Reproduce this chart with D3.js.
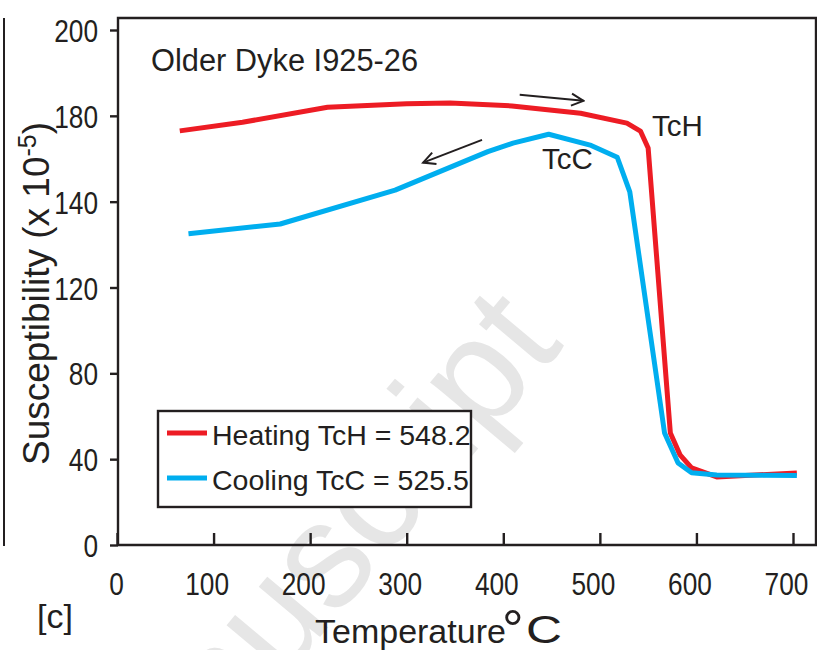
<!DOCTYPE html>
<html>
<head>
<meta charset="utf-8">
<script src="https://cdn.jsdelivr.net/npm/d3@7/dist/d3.min.js"></script>
<style>
  html, body { margin: 0; padding: 0; background: #fff; }
  svg { display: block; }
  text { fill: #231F20; }
</style>
</head>
<body>
<svg id="chart" width="817" height="650"></svg>
<script>
// ---- data ----
const heatTemp = [65, 130, 218, 300, 345, 409, 480, 528, 542, 550, 573, 583, 595, 621, 704];
const heatSusc = [173, 177, 182, 182.8, 183, 182.3, 180.6, 176.6, 172.9, 165, 52.2, 42, 35.9, 31.7, 33.6];
const coolTemp = [74, 169, 288, 384, 410, 447, 491, 518, 531, 567, 581, 595, 621, 704];
const coolSusc = [132.5, 134.8, 145.4, 163.3, 167.3, 171.4, 166.2, 160.7, 144.6, 52.2, 38.2, 33.7, 32.6, 32.4];
const xTicks = [0, 100, 200, 300, 400, 500, 600, 700];
const yTicks = [0, 40, 80, 120, 140, 180, 200];
const yTickLabels = ["0", "40", "80", "120", "140", "180", "200"];
const seriesNames = ["Heating TcH = 548.2", "Cooling TcC = 525.5"];
const seriesColors = ["#ED1C24", "#00AEEF"];
// annotation arrows in data units [t0, k0, t1, k1]
const arrowHeat = [417, 184.9, 483, 183.5];
const arrowCool = [378, 168.8, 317, 158.2];

(function () {
// ---- layout ----
const pL = 118, pR = 816, pT = 18, pB = 545;
const INK = "#231F20";
const svg = d3.select("#chart");
const sans = "'Liberation Sans', Arial, Helvetica, sans-serif";
const digitW = 14.6; // narrow digit advance at 32px

const x = d3.scaleLinear().domain([0, 700]).range([117, 793]);
const yStep = (545 - 30) / (yTicks.length - 1);
const y = d3.scaleLinear().domain(yTicks).range(yTicks.map((d, i) => 545 - i * yStep));

// watermark
svg.append("text")
  .attr("transform", "translate(565,345) rotate(-50)")
  .attr("text-anchor", "end")
  .style("font-family", sans)
  .style("font-size", "150px")
  .style("fill", "#E6E6E6")
  .text("Manuscript");

// adjacent panel edge line
svg.append("line").attr("x1", 4).attr("x2", 4).attr("y1", 18).attr("y2", 546)
  .attr("stroke", INK).attr("stroke-width", 2);

// frame
svg.append("path")
  .attr("d", `M${pL},${pB} L${pL},${pT} L${pR},${pT} L${pR},${pB} L${pL},${pB}`)
  .attr("fill", "none").attr("stroke", INK).attr("stroke-width", 2.4);

// x axis
const gx = svg.append("g").attr("transform", `translate(0,${pB})`)
  .call(d3.axisBottom(x).tickValues(xTicks).tickSize(-12).tickFormat(d3.format("d")));
gx.select(".domain").remove();
gx.selectAll(".tick line").attr("stroke", INK).attr("stroke-width", 2.4);
gx.selectAll(".tick text")
  .attr("y", 50).attr("dy", 0).attr("dx", d => d === 0 ? -1 : -7)
  .attr("fill", INK)
  .style("font-family", sans)
  .style("font-size", "32px")
  .attr("lengthAdjust", "spacingAndGlyphs")
  .attr("textLength", function () { return this.textContent.length * digitW; });

// y axis
const gy = svg.append("g").attr("transform", `translate(${pL},0)`)
  .call(d3.axisLeft(y).tickValues(yTicks).tickSize(8).tickFormat((d, i) => yTickLabels[i]));
gy.select(".domain").remove();
gy.selectAll(".tick line").attr("stroke", INK).attr("stroke-width", 2.4);
gy.selectAll(".tick text")
  .attr("x", -20).attr("dy", "0.36em")
  .attr("fill", INK)
  .style("font-family", sans)
  .style("font-size", "32px")
  .attr("lengthAdjust", "spacingAndGlyphs")
  .attr("textLength", function () { return this.textContent.length * digitW; });

// lines
const line = d3.line().x(d => x(d[0])).y(d => y(d[1]));
const heat = heatTemp.map((t, i) => [t, heatSusc[i]]);
const cool = coolTemp.map((t, i) => [t, coolSusc[i]]);
svg.append("path").datum(heat).attr("d", line)
  .attr("fill", "none").attr("stroke", seriesColors[0]).attr("stroke-width", 5).attr("stroke-linejoin", "round");
svg.append("path").datum(cool).attr("d", line)
  .attr("fill", "none").attr("stroke", seriesColors[1]).attr("stroke-width", 5).attr("stroke-linejoin", "round");

// arrows
const defs = svg.append("defs");
defs.append("marker").attr("id", "ah").attr("viewBox", "-14 -8 16 16")
  .attr("markerUnits", "userSpaceOnUse").attr("markerWidth", 16).attr("markerHeight", 16)
  .attr("refX", 0).attr("refY", 0).attr("orient", "auto")
  .append("path").attr("d", "M-12,-6 L0,0 L-12,6").attr("fill", "none")
  .attr("stroke", INK).attr("stroke-width", 2);
[arrowHeat, arrowCool].forEach(a => {
  svg.append("line")
    .attr("x1", x(a[0])).attr("y1", y(a[1])).attr("x2", x(a[2])).attr("y2", y(a[3]))
    .attr("stroke", INK).attr("stroke-width", 2).attr("marker-end", "url(#ah)");
});

// annotations
svg.append("text").attr("x", 652).attr("y", 136).style("font-family", sans).style("font-size", "29.5px").text("TcH");
svg.append("text").attr("x", 542).attr("y", 169).style("font-family", sans).style("font-size", "29.5px").text("TcC");
svg.append("text").attr("x", 151).attr("y", 71).style("font-family", sans).style("font-size", "30.8px").text("Older Dyke I925-26");

// legend
const lg = svg.append("g");
lg.append("rect").attr("x", 158).attr("y", 411).attr("width", 313).attr("height", 96)
  .attr("fill", "#fff").attr("stroke", INK).attr("stroke-width", 2.4);
seriesNames.forEach((name, i) => {
  const yy = 433 + i * 45;
  lg.append("line").attr("x1", 167).attr("x2", 207).attr("y1", yy).attr("y2", yy)
    .attr("stroke", seriesColors[i]).attr("stroke-width", 5);
  lg.append("text").attr("x", 212).attr("y", yy + 12)
    .style("font-family", sans).style("font-size", "28.5px").text(name);
});

// axis titles
svg.append("text").attr("x", 315).attr("y", 643)
  .style("font-family", sans).style("font-size", "34px").text("Temperature");
svg.append("text").attr("x", 502).attr("y", 648)
  .style("font-family", sans).style("font-size", "54px").text("°");
svg.append("text").attr("x", 526).attr("y", 643)
  .style("font-family", sans).style("font-size", "39px")
  .attr("lengthAdjust", "spacingAndGlyphs").attr("textLength", 36).text("C");

const yt = svg.append("text").attr("transform", "translate(49,465) rotate(-90)")
  .style("font-family", sans).style("font-size", "37px");
yt.append("tspan").text("Susceptibility (x 10");
yt.append("tspan").attr("dy", -13).style("font-size", "25px").text("-5");
yt.append("tspan").attr("dy", 13).text(")");

svg.append("text").attr("x", 37).attr("y", 628)
  .style("font-family", sans).style("font-size", "34px").text("[c]");
})();
</script>
</body>
</html>
